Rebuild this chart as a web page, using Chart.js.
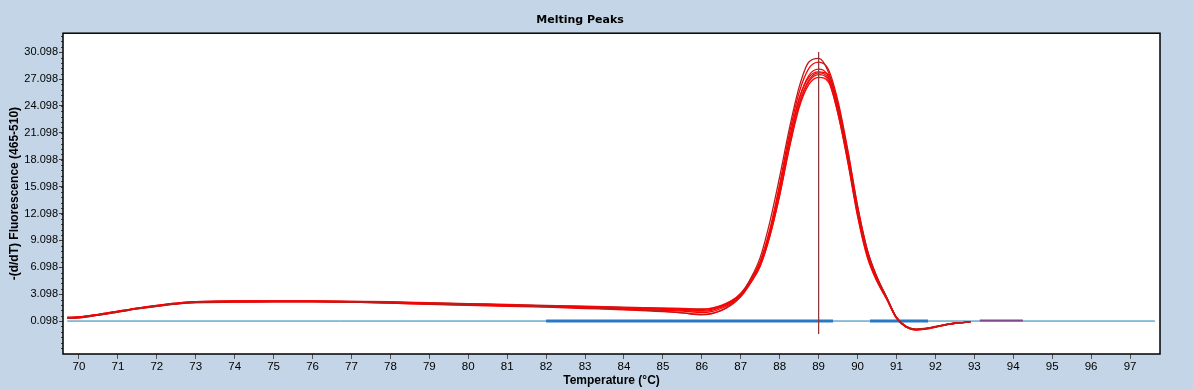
<!DOCTYPE html>
<html>
<head>
<meta charset="utf-8">
<script src="https://cdn.jsdelivr.net/npm/chart.js@4/dist/chart.umd.min.js"></script>
<style>
  html, body { margin: 0; padding: 0; background: #C3D5E6; }
  #wrap { width: 1193px; height: 389px; }
</style>
</head>
<body>
<div id="wrap"><canvas id="melt" width="1193" height="389"></canvas></div>
<script>
// temperatures (°C) the curves were read at
const temps = [69.7,70,70.5,71,71.5,72,72.5,73,74,75,76,77,78,79,80,81,82,83,84,85,85.5,86,86.25,86.5,86.75,87,87.25,87.5,87.75,88,88.25,88.5,88.75,89,89.25,89.5,89.75,90,90.25,90.5,90.75,91,91.25,91.5,91.75,92,92.25,92.5,92.9]

// -(d/dT) fluorescence, one array per sample
const sample1 = [0.4,0.45,0.75,1.1,1.45,1.75,2.0,2.15,2.25,2.25,2.25,2.2,2.1,2.0,1.9,1.8,1.7,1.55,1.4,1.2,1.0,0.85,0.95,1.3,1.95,3.0,4.8,7.2,11.2,16.2,21.6,26.2,29.0,29.4,27.9,24.0,18.6,12.6,7.9,4.9,2.7,0.5,-0.5,-0.8,-0.7,-0.5,-0.3,-0.15,0.0]
const sample2 = [0.5,0.55,0.85,1.2,1.55,1.85,2.1,2.25,2.35,2.35,2.35,2.3,2.2,2.1,2.0,1.9,1.8,1.7,1.6,1.5,1.45,1.4,1.5,1.8,2.3,3.2,4.7,6.8,10.4,15.4,21.0,25.6,28.3,29.0,28.2,24.6,19.2,13.0,8.1,5.0,2.7,0.5,-0.55,-0.85,-0.75,-0.55,-0.35,-0.15,0.0]
const sample3 = [0.45,0.5,0.8,1.15,1.5,1.8,2.05,2.2,2.3,2.3,2.3,2.25,2.15,2.05,1.95,1.85,1.75,1.65,1.55,1.4,1.3,1.2,1.3,1.65,2.15,3.0,4.5,6.5,10.0,14.8,20.3,24.9,27.5,28.2,27.4,23.6,18.2,12.2,7.5,4.7,2.6,0.45,-0.55,-0.85,-0.75,-0.55,-0.3,-0.15,0.0]
const sample4 = [0.5,0.55,0.85,1.2,1.55,1.85,2.1,2.25,2.35,2.35,2.35,2.3,2.25,2.15,2.05,1.95,1.85,1.75,1.65,1.55,1.5,1.45,1.55,1.85,2.35,3.1,4.5,6.4,9.8,14.4,19.8,24.4,27.0,27.8,27.2,23.8,18.6,12.6,7.8,4.9,2.7,0.5,-0.55,-0.85,-0.8,-0.55,-0.35,-0.15,0.0]
const sample5 = [0.4,0.45,0.75,1.1,1.45,1.75,2.0,2.15,2.2,2.25,2.25,2.2,2.1,1.95,1.85,1.75,1.65,1.5,1.35,1.15,1.0,0.8,0.9,1.25,1.85,2.8,4.3,6.2,9.6,14.2,19.6,24.2,26.8,27.6,27.0,23.2,17.8,11.8,7.2,4.5,2.5,0.4,-0.6,-0.9,-0.8,-0.6,-0.35,-0.15,0.0]
const sample6 = [0.5,0.55,0.8,1.15,1.5,1.8,2.05,2.2,2.3,2.3,2.3,2.25,2.2,2.1,2.0,1.9,1.8,1.7,1.6,1.5,1.4,1.3,1.4,1.75,2.25,3.05,4.4,6.3,9.6,14.1,19.4,23.9,26.5,27.3,26.8,23.2,18.0,12.0,7.4,4.6,2.6,0.45,-0.55,-0.85,-0.75,-0.55,-0.3,-0.15,0.0]
const sample7 = [0.45,0.5,0.8,1.15,1.5,1.8,2.05,2.2,2.25,2.3,2.3,2.25,2.15,2.05,1.95,1.85,1.7,1.6,1.45,1.3,1.2,1.05,1.15,1.5,2.05,2.9,4.4,6.5,10.1,15.0,20.4,24.9,27.3,27.9,27.6,24.2,19.0,12.9,8.0,5.0,2.75,0.5,-0.5,-0.8,-0.75,-0.55,-0.3,-0.15,0.0]
const samples = [sample1, sample2, sample3, sample4, sample5, sample6, sample7]
const sampleColors = ['#B81C1C','#FF0000','#FF0000','#C82020','#FF0000','#FF0000','#FF0000']

// baseline and analysis ranges
const baselineValue = 0.098
const baselineRange = [69.7, 97.64]
const blueRanges = [[82.0, 89.37], [90.32, 91.81]]
const purpleRange = [93.14, 94.25]
const purpleValue = 0.16
const peakMarker = { t: 89.0, top: 30.098, bottom: -1.35 }

// axis ticks
const xTicks = [70,71,72,73,74,75,76,77,78,79,80,81,82,83,84,85,86,87,88,89,90,91,92,93,94,95,96,97]
const yTickLabels = ['0.098','3.098','6.098','9.098','12.098','15.098','18.098','21.098','24.098','27.098','30.098']
const yMin = -3.58, yMax = 32.22, xMin = 69.59, xMax = 97.77

function toPoints(arr){
    return temps.map((t, i) => ({x: t, y: arr[i]}))
}

let datasets = []
datasets.push({
    data: [{x: peakMarker.t, y: peakMarker.top}, {x: peakMarker.t, y: peakMarker.bottom}],
    borderColor: '#8E3B3B', borderWidth: 1, pointRadius: 0, order: 0
})
samples.forEach((s, i) => {
    datasets.push({
        data: toPoints(s),
        borderColor: sampleColors[i], borderWidth: 1.3, pointRadius: 0,
        cubicInterpolationMode: 'monotone', order: 1
    })
})
datasets.push({
    data: [{x: purpleRange[0], y: purpleValue}, {x: purpleRange[1], y: purpleValue}],
    borderColor: '#7E4A8C', borderWidth: 2, pointRadius: 0, order: 2
})
blueRanges.forEach(r => {
    datasets.push({
        data: [{x: r[0], y: baselineValue}, {x: r[1], y: baselineValue}],
        borderColor: '#2A78C4', borderWidth: 3, pointRadius: 0, order: 3
    })
})
datasets.push({
    data: [{x: baselineRange[0], y: baselineValue}, {x: baselineRange[1], y: baselineValue}],
    borderColor: '#1F7FB5', borderWidth: 1, pointRadius: 0, order: 4
})

const frame = {
    id: 'frame',
    beforeDraw(chart){
        const {ctx, chartArea: a} = chart
        ctx.save()
        ctx.fillStyle = '#C3D5E6'
        ctx.fillRect(0, 0, chart.width, chart.height)
        ctx.fillStyle = '#FFFFFF'
        ctx.fillRect(a.left, a.top, a.right - a.left, a.bottom - a.top)
        ctx.restore()
    },
    afterDraw(chart){
        const {ctx, chartArea: a} = chart
        const ys = chart.scales.y
        ctx.save()
        // minor ticks on the y axis
        ctx.strokeStyle = '#444'
        ctx.lineWidth = 1
        ctx.beginPath()
        for (let v = Number(yTickLabels[0]) - 3; v < yMax; v += 0.6) {
            const py = Math.round(ys.getPixelForValue(v)) + 0.5
            if (py < a.top || py > a.bottom) continue
            ctx.moveTo(a.left - 2, py)
            ctx.lineTo(a.left, py)
        }
        ctx.stroke()
        ctx.strokeStyle = '#000'
        ctx.lineWidth = 1.5
        ctx.strokeRect(a.left, a.top, a.right - a.left, a.bottom - a.top)
        ctx.restore()
    }
}

new Chart(document.getElementById('melt').getContext('2d'), {
    type: 'line',
    data: { datasets: datasets },
    options: {
        responsive: false,
        animation: false,
        events: [],
        layout: { padding: { left: 0, right: 33, top: 0, bottom: 0 } },
        plugins: {
            legend: { display: false },
            tooltip: { enabled: false },
            title: {
                display: true, text: 'Melting Peaks', color: '#000',
                font: { family: 'DejaVu Sans', size: 11, weight: 'bold' },
                padding: { top: 14, bottom: 6 }
            }
        },
        scales: {
            x: {
                type: 'linear', min: xMin, max: xMax,
                afterFit(scale){ scale.height = 35 },
                afterBuildTicks(scale){ scale.ticks = xTicks.map(v => ({value: v})) },
                ticks: {
                    color: '#000', padding: 1, maxRotation: 0, autoSkip: false,
                    font: { family: 'Liberation Sans', size: 11.5 },
                    callback: v => String(v)
                },
                grid: { drawOnChartArea: false, tickLength: 5, tickColor: '#555' },
                border: { display: false },
                title: {
                    display: true, text: 'Temperature (°C)', color: '#000',
                    font: { family: 'Liberation Sans', size: 12, weight: 'bold' },
                    padding: { top: 0, bottom: 1 }
                }
            },
            y: {
                type: 'linear', min: yMin, max: yMax,
                afterFit(scale){ scale.width = 63 },
                afterBuildTicks(scale){ scale.ticks = yTickLabels.map(s => ({value: Number(s)})) },
                ticks: {
                    color: '#000', padding: 1, autoSkip: false,
                    font: { family: 'Liberation Sans', size: 11 },
                    callback: (v, i) => yTickLabels[i]
                },
                grid: { drawOnChartArea: false, tickLength: 4, tickColor: '#444' },
                border: { display: false },
                title: {
                    display: true, text: '-(d/dT) Fluorescence (465-510)', color: '#000',
                    font: { family: 'Liberation Sans', size: 12, weight: 'bold' },
                    padding: { top: 7, bottom: 0 }
                }
            }
        }
    },
    plugins: [frame]
})
</script>
</body>
</html>
